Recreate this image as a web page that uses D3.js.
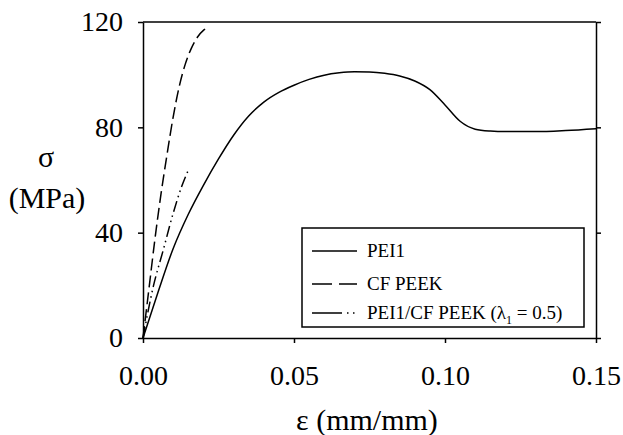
<!DOCTYPE html>
<html>
<head>
<meta charset="utf-8">
<script src="https://cdn.jsdelivr.net/npm/d3@7"></script>
<style>
  html, body { margin: 0; padding: 0; background: #fff; }
  svg { display: block; }
</style>
</head>
<body>
<script>
// Stress–strain curves
const pei1Strain = [0, 0.005, 0.010, 0.015, 0.020, 0.025, 0.030, 0.035, 0.040, 0.045, 0.050, 0.055, 0.060, 0.065, 0.070, 0.075, 0.080, 0.085, 0.090, 0.095, 0.100, 0.105, 0.110, 0.115, 0.120, 0.130, 0.140, 0.150];
const pei1Stress = [0, 17.5, 34, 47, 58, 68, 77, 84.3, 89.6, 93.3, 96, 98.2, 99.8, 100.7, 101.1, 101, 100.5, 99.5, 97.6, 94.3, 88.5, 82.3, 79.3, 78.6, 78.4, 78.4, 78.8, 79.5];

const cfStrain = [0, 0.0020, 0.0040, 0.0060, 0.0080, 0.0100, 0.0120, 0.0140, 0.0160, 0.0180, 0.0200, 0.0218];
const cfStress = [0, 19, 38, 55, 70, 84, 95.5, 104, 110, 114.2, 116.8, 118];

const blendStrain = [0, 0.0034, 0.0067, 0.0100, 0.0128, 0.0153];
const blendStress = [0, 19.5, 33.4, 47.4, 57.5, 64.5];

const xTicks = [0, 0.05, 0.10, 0.15];
const yTicks = [0, 40, 80, 120];

const seriesNames = ["PEI1", "CF PEEK", "PEI1/CF PEEK"];

const FONT = "'Liberation Serif', Tinos, 'Times New Roman', Times, serif";

const W = 623, H = 435;
const svg = d3.select("body").append("svg").attr("width", W).attr("height", H)
  .style("font-family", FONT);

const x = d3.scaleLinear().domain([0, 0.15]).range([143, 596]);
const y = d3.scaleLinear().domain([0, 120]).range([338, 22]);

const tickFont = 28;
const titleFont = 30;

// Axes
const gx = svg.append("g").attr("transform", `translate(0,${y(0)})`)
  .call(d3.axisBottom(x).tickValues(xTicks).tickFormat(d3.format(".2f")).tickSize(5).tickPadding(22).tickSizeOuter(0));
const gy = svg.append("g").attr("transform", `translate(${x(0)},0)`)
  .call(d3.axisLeft(y).tickValues(yTicks).tickFormat(d3.format("d")).tickSize(5).tickPadding(15).tickSizeOuter(0));
const gr = svg.append("g").attr("transform", `translate(${x(0.15)},0)`)
  .call(d3.axisRight(y).tickValues(yTicks).tickFormat("").tickSize(5).tickSizeOuter(0));

[gx, gy, gr].forEach(g => {
  g.attr("font-family", null);
  g.selectAll("path.domain").attr("stroke", "#000").attr("stroke-width", 1.5);
  g.selectAll(".tick line").attr("stroke", "#000").attr("stroke-width", 1.5);
  g.selectAll("text").style("font-family", FONT).attr("font-size", tickFont).attr("fill", "#000");
});

// Top frame line
svg.append("line")
  .attr("x1", x(0)).attr("x2", x(0.15))
  .attr("y1", y(120)).attr("y2", y(120))
  .attr("stroke", "#000").attr("stroke-width", 1.5);

// Axis titles
svg.append("text").attr("x", 367).attr("y", 430).attr("text-anchor", "middle")
  .attr("font-size", titleFont).text("ε (mm/mm)");
svg.append("text").attr("x", 46).attr("y", 167).attr("text-anchor", "middle")
  .attr("font-size", titleFont).text("σ");
svg.append("text").attr("x", 47).attr("y", 208).attr("text-anchor", "middle")
  .attr("font-size", titleFont).text("(MPa)");

// Curves
const line = d3.line().x(d => x(d[0])).y(d => y(d[1])).curve(d3.curveMonotoneX);
const styles = [
  { dash: null, legendDash: null },
  { dash: "12,5", legendDash: "20,7" },
  { dash: "11,4,1.5,4,1.5,4", legendDash: "30,5,1.5,4.5,1.5,10" }
];
const series = [
  d3.zip(pei1Strain, pei1Stress),
  d3.zip(cfStrain, cfStress),
  d3.zip(blendStrain, blendStress)
];
series.forEach((pts, i) => {
  svg.append("path").attr("d", line(pts))
    .attr("fill", "none").attr("stroke", "#000").attr("stroke-width", 1.5)
    .attr("stroke-dasharray", styles[i].dash);
});

// Legend
const lg = svg.append("g");
lg.append("rect").attr("x", 302).attr("y", 228).attr("width", 282).attr("height", 99)
  .attr("fill", "#fff").attr("stroke", "#000").attr("stroke-width", 1.5);
const rowsY = [251, 284, 313];
seriesNames.forEach((name, i) => {
  lg.append("line").attr("x1", 312).attr("x2", 357).attr("y1", rowsY[i]).attr("y2", rowsY[i])
    .attr("stroke", "#000").attr("stroke-width", 1.5)
    .attr("stroke-dasharray", styles[i].legendDash);
  const t = lg.append("text").attr("x", 367).attr("y", rowsY[i] + 6).attr("font-size", 19);
  if (i < 2) {
    t.text(name);
  } else {
    t.append("tspan").text(name + " (λ");
    t.append("tspan").attr("font-size", 12).attr("dy", 5).text("1");
    t.append("tspan").attr("dy", -5).text(" = 0.5)");
  }
});
</script>
</body>
</html>
